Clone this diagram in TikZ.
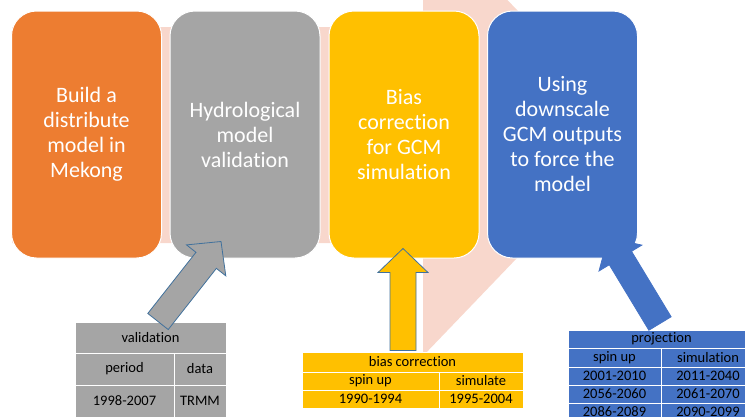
\documentclass[tikz,border=0pt]{standalone}
\usepackage{fontspec}
\setmainfont{Carlito}[Ligatures=NoCommon]
\usetikzlibrary{calc,positioning}
\definecolor{orng}{HTML}{ED7D31}
\definecolor{gry}{HTML}{A5A5A5}
\definecolor{gold}{HTML}{FFC000}
\definecolor{blu}{HTML}{4472C4}
\definecolor{pinkbg}{HTML}{F8D7CC}
\definecolor{edge}{HTML}{41719C}
\newcommand\blkarr[3]{%
\coordinate (hb) at ($(#3)!24pt!(#2)$);
\draw[#1] ($(#2)!13pt!90:(#3)$)--($(hb)!13pt!90:(#3)$)--($(hb)!25pt!90:(#3)$)--(#3)
--($(hb)!25pt!-90:(#3)$)--($(hb)!13pt!-90:(#3)$)--($(#2)!13pt!-90:(#3)$)--cycle;}

\begin{document}
\begin{tikzpicture}[x=1pt,y=-1pt,
stage/.style={rectangle,rounded corners=25pt,draw=white,line width=1pt,
minimum width=150pt,minimum height=247pt,text=white,align=center,
font=\fontsize{22}{25}\selectfont},
cell/.style={rectangle,draw=white,line width=1pt,inner sep=0pt,
font=\fontsize{14.5}{17}\selectfont}]
\useasboundingbox (0,0) rectangle (745,416);
\clip (0,0) rectangle (745,416);
\fill[pinkbg] (12,27)--(423,27)--(423,-88)--(636,134)--(423,356)--(423,243)--(12,243)--cycle;
\node[stage,fill=orng] (build) at (86.5,134.5) {Build a\\distribute\\model in\\Mekong};
\node[stage,fill=gry] (hydro) at (245,134.5) {Hydrological\\model\\validation};
\node[stage,fill=gold] (bias) at (404,134.5) {Bias\\correction\\for GCM\\simulation};
\node[stage,fill=blu] (using) at (562.5,134.5) {Using\\downscale\\GCM outputs\\to force the\\model};

\node[cell,fill=gry,minimum width=151pt,minimum height=31pt] (vtitle) at (150.5,337.5) {validation};
\node[cell,fill=gry,minimum width=99pt,minimum height=32pt] (vper) at (124.5,369) {period};
\node[cell,fill=gry,minimum width=52pt,minimum height=32pt] (vdat) at (200,369) {data};
\node[cell,fill=gry,minimum width=99pt,minimum height=32pt] (vyr) at (124.5,401) {1998-2007};
\node[cell,fill=gry,minimum width=52pt,minimum height=32pt] (vsrc) at (200,401) {TRMM};

\node[cell,fill=gold,minimum width=221pt,minimum height=20pt] (btitle) at (412.5,362) {bias correction};
\node[cell,fill=gold,minimum width=137pt,minimum height=18pt] (bspin) at (370.5,381) {spin up};
\node[cell,fill=gold,minimum width=84pt,minimum height=18pt] (bsim) at (481,381) {simulate};
\node[cell,fill=gold,minimum width=137pt,minimum height=18pt] (bspinyr) at (370.5,399) {1990-1994};
\node[cell,fill=gold,minimum width=84pt,minimum height=18pt] (bsimyr) at (481,399) {1995-2004};

\node[cell,fill=blu,minimum width=187pt,minimum height=18pt] (ptitle) at (661.5,339) {projection};
\node[cell,fill=blu,minimum width=93pt,minimum height=19pt] (pspin) at (614.5,357.5) {spin up};
\node[cell,fill=blu,minimum width=94pt,minimum height=19pt] (psim) at (708,357.5) {simulation};
\node[cell,fill=blu,minimum width=93pt,minimum height=18pt] (pa1) at (614.5,376) {2001-2010};
\node[cell,fill=blu,minimum width=94pt,minimum height=18pt] (pb1) at (708,376) {2011-2040};
\node[cell,fill=blu,minimum width=93pt,minimum height=18pt] (pa2) at (614.5,394) {2056-2060};
\node[cell,fill=blu,minimum width=94pt,minimum height=18pt] (pb2) at (708,394) {2061-2070};
\node[cell,fill=blu,minimum width=93pt,minimum height=18pt] (pa3) at (614.5,412) {2086-2089};
\node[cell,fill=blu,minimum width=94pt,minimum height=18pt] (pb3) at (708,412) {2090-2099};

\coordinate (vtail) at ($(vtitle.north)+(7.5,0)$);
\coordinate (vtip) at ($(hydro.south)+(-24,-17)$);
\coordinate (btail) at ($(btitle.north)+(-9.5,-1)$);
\coordinate (btip) at ($(bias.south)+(-1,-10)$);
\coordinate (ptail) at ($(ptitle.north)+(-1.5,-6)$);
\coordinate (ptip) at ($(using.south)+(45.5,-21)$);
\blkarr{fill=gry,draw=edge,line width=.8pt}{vtail}{vtip}
\blkarr{fill=gold,draw=edge,line width=.8pt}{btail}{btip}
\blkarr{fill=blu,draw=blu,line width=.8pt}{ptail}{ptip}
\end{tikzpicture}
\end{document}
